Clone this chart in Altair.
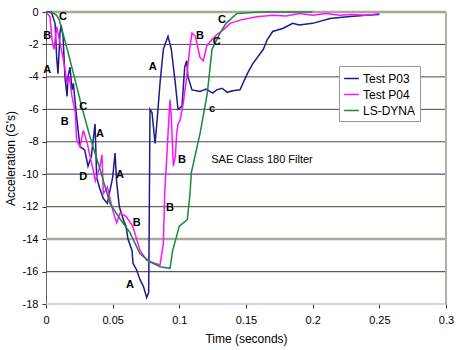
import altair as alt
import pandas as pd

FONT = "Liberation Sans"

# ---- data ----
p03_t = [0, 0.004, 0.0068, 0.008, 0.009, 0.0105, 0.0113, 0.0128, 0.0142, 0.0158, 0.0165, 0.018, 0.0195,
         0.0205, 0.023, 0.0255, 0.029, 0.0315, 0.034, 0.0368, 0.038, 0.040, 0.043, 0.046, 0.048, 0.050,
         0.0518, 0.053, 0.055, 0.058, 0.060, 0.0615, 0.0645, 0.0653, 0.068, 0.0705, 0.073, 0.0755, 0.077,
         0.0775, 0.078, 0.0795, 0.0818, 0.0835, 0.0855, 0.088, 0.0915, 0.094, 0.097, 0.099, 0.102, 0.104,
         0.1055, 0.1065, 0.1095, 0.1155, 0.12, 0.125, 0.128, 0.132, 0.136, 0.14, 0.1455, 0.151, 0.155,
         0.163, 0.166, 0.17, 0.178, 0.185, 0.19, 0.2, 0.213, 0.226, 0.24, 0.25]
p03_g = [0, 0, -0.7, -2.8, -3.8, -1.3, -0.8, -1.5, -4.0, -5.2, -4.0, -3.4, -4.8,
         -4.4, -6.5, -8.3, -8.5, -9.5, -8.9, -6.9, -10.2, -10.8, -11.5, -11.8, -11.0, -10.2,
         -8.7, -10.5, -12.0, -12.8, -13.2, -14.0, -14.7, -15.5, -15.9, -16.5, -16.9, -17.6, -17.3,
         -12.0, -6.0, -6.2, -8.1, -6.5, -4.4, -2.3, -1.5, -2.3, -4.4, -6.0, -5.8, -3.4,
         -3.0, -4.0, -4.8, -4.9, -4.75, -5.0, -4.8, -4.7, -4.95, -4.85, -4.8, -3.8, -3.2,
         -2.3, -1.7, -1.2, -1.0, -0.7, -0.8, -0.7, -0.4, -0.3, -0.2, -0.15]

p04_t = [0, 0.003, 0.0045, 0.006, 0.008, 0.0105, 0.012, 0.014, 0.0158, 0.0175, 0.0195, 0.022, 0.023,
         0.0255, 0.028, 0.031, 0.033, 0.0353, 0.037, 0.0405, 0.042, 0.043, 0.046, 0.050, 0.053, 0.0555,
         0.06, 0.065, 0.068, 0.0705, 0.0755, 0.082, 0.0855, 0.088, 0.089, 0.0905, 0.0915, 0.093, 0.094,
         0.0955, 0.097, 0.098, 0.099, 0.1005, 0.103, 0.1055, 0.108, 0.1095, 0.112, 0.1155, 0.118, 0.1205,
         0.1245, 0.128, 0.133, 0.138, 0.1455, 0.158, 0.17, 0.18, 0.19, 0.2, 0.21, 0.22, 0.23, 0.24, 0.25]
p04_g = [0, -0.3, -1.7, -2.3, -0.9, -1.9, -2.5, -3.4, -4.4, -4.0, -5.2, -6.2, -7.9,
         -8.3, -7.3, -8.1, -8.9, -9.7, -10.4, -9.5, -8.8, -11.2, -10.8, -12.2, -13.0, -12.4,
         -12.6, -13.2, -14.0, -14.7, -15.3, -15.5, -15.6, -14.3, -11.2, -9.1, -7.5, -5.4, -6.5,
         -9.5, -8.9, -7.5, -6.9, -6.7, -5.6, -4.0, -2.1, -1.3, -1.5, -2.8, -3.0, -2.1,
         -1.7, -1.4, -1.1, -0.7, -0.5, -0.3, -0.2, -0.25, -0.1, -0.2, -0.1, -0.2, -0.15, -0.2, -0.1]

dyna_t = [0, 0.005, 0.008, 0.01, 0.015, 0.02, 0.027, 0.033, 0.040, 0.048, 0.055, 0.063, 0.0705,
          0.078, 0.0855, 0.093, 0.095, 0.1, 0.106, 0.108, 0.109, 0.1155, 0.121, 0.1245, 0.1305,
          0.135, 0.143, 0.16, 0.18, 0.2]
dyna_g = [0, -0.05, -0.2, -0.5, -2.0, -3.6, -5.9, -7.7, -9.55, -11.8, -12.7, -13.6, -14.9,
          -15.4, -15.7, -15.8, -14.7, -13.2, -12.8, -11.2, -9.9, -7.5, -5.0, -2.3, -1.3,
          -0.7, -0.1, 0, 0, 0]

series_names = ["Test P03", "Test P04", "LS-DYNA"]
series_colors = ["#1c1c8c", "#ff10ff", "#1a8a3a"]

# letter annotations
ann_text = ["C", "B", "A", "C", "B", "A", "D", "A", "B", "A", "A", "B", "C", "C", "c", "B", "B"]
ann_t = [0.0128, 0.001, 0.001, 0.028, 0.014, 0.0405, 0.028, 0.0555, 0.068, 0.063, 0.080, 0.1155,
         0.128, 0.132, 0.1245, 0.102, 0.093]
ann_g = [-0.3, -1.5, -3.6, -5.85, -6.8, -7.5, -10.2, -10.05, -13.0, -16.8, -3.4, -1.5,
         -1.85, -0.5, -6.0, -9.1, -12.1]

note_text = ["SAE Class 180 Filter"]
note_t = [0.162]
note_g = [-9.1]

grid_y = [0, -2, -4, -6, -8, -10, -12, -14, -16, -18]
grid_color = ["#a8a898", "#4a4a50", "#4a4a50", "#4a4a50", "#4a4a50", "#55557a", "#6a6a50",
              "#a8a898", "#55557a", "#c0c0f8"]
grid_width = [2.5, 1, 1, 1, 1, 1.2, 1.2, 2.5, 1.2, 1.5]

x_ticks = [0, 0.05, 0.1, 0.15, 0.2, 0.25, 0.3]
y_ticks = [0, -2, -4, -6, -8, -10, -12, -14, -16, -18]

# ---- tables ----
rows = []
for name, ts, gs in [(series_names[0], p03_t, p03_g), (series_names[1], p04_t, p04_g),
                     (series_names[2], dyna_t, dyna_g)]:
    for i, (t, g) in enumerate(zip(ts, gs)):
        rows.append({"series": name, "t": t, "g": g, "order": i})
lines_df = pd.DataFrame(rows)
ann_df = pd.DataFrame({"label": ann_text, "t": ann_t, "g": ann_g})
note_df = pd.DataFrame({"label": note_text, "t": note_t, "g": note_g})
grid_df = pd.DataFrame({"g": grid_y, "c": grid_color, "w": grid_width})

xscale = alt.Scale(domain=[0, 0.3], nice=False, zero=False)
yscale = alt.Scale(domain=[-18, 0], nice=False, zero=False)

x_axis = alt.Axis(title="Time (seconds)", values=x_ticks, format=".2~f", grid=False,
                  domain=False, tickColor="#333", tickSize=4, labelPadding=6,
                  titlePadding=8, labelFlush=False)
y_axis = alt.Axis(title="Acceleration (G's)", values=y_ticks, grid=False,
                  labelExpr="'' + datum.value", domainColor="#666",
                  tickColor="#333", tickSize=4, labelPadding=4, titlePadding=5)

x_enc = alt.X("t:Q", scale=xscale, axis=x_axis)
y_enc = alt.Y("g:Q", scale=yscale, axis=y_axis)

grid = alt.Chart(grid_df).mark_rule().encode(
    y=y_enc,
    stroke=alt.Stroke("c:N", scale=None, legend=None),
    strokeWidth=alt.StrokeWidth("w:Q", scale=None, legend=None),
)

right_border = alt.Chart(pd.DataFrame({"t": [0.3]})).mark_rule(color="#b0b0a0", strokeWidth=2).encode(
    x=x_enc
)

lines = alt.Chart(lines_df).mark_line(strokeWidth=1.5).encode(
    x=x_enc,
    y=y_enc,
    order="order:Q",
    color=alt.Color("series:N",
                    scale=alt.Scale(domain=series_names, range=series_colors),
                    sort=series_names,
                    legend=alt.Legend(title=None, orient="none", legendX=293, legendY=54,
                                      symbolType="stroke", symbolStrokeWidth=1.5, symbolSize=220,
                                      labelFont=FONT, labelFontSize=12, labelColor="#000",
                                      labelOffset=3,
                                      fillColor="white", strokeColor="#999", padding=4,
                                      rowPadding=1, cornerRadius=0)),
)

letters = alt.Chart(ann_df).mark_text(font=FONT, fontSize=11, fontWeight="bold", color="#000").encode(
    x=x_enc, y=y_enc, text="label:N"
)

note = alt.Chart(note_df).mark_text(font=FONT, fontSize=11, color="#000").encode(
    x=x_enc, y=y_enc, text="label:N"
)

chart = alt.layer(grid, right_border, lines, letters, note).properties(
    width=400, height=292,
    autosize=alt.AutoSizeParams(type="none"),
    padding={"left": 46, "top": 12, "right": 13, "bottom": 46},
    background="white",
).configure_view(stroke=None).configure_axis(
    labelFont=FONT, labelFontSize=11, labelColor="#000",
    titleFont=FONT, titleFontSize=12, titleColor="#000", titleFontWeight="normal",
)

chart.save("out.html", embed_options={"renderer": "svg", "actions": False})
